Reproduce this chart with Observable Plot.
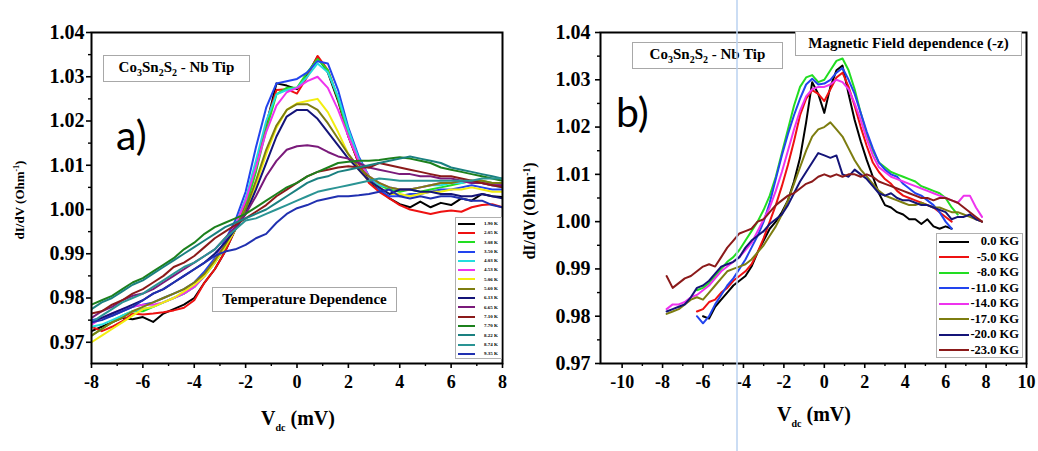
<!DOCTYPE html>
<html><head><meta charset="utf-8">
<script src="https://cdn.jsdelivr.net/npm/d3@7"></script>
<script src="https://cdn.jsdelivr.net/npm/@observablehq/plot@0.6"></script>
<style>
body{margin:0;background:#fff;}
#wrap{position:relative;width:1038px;height:451px;overflow:hidden;font-family:"Liberation Serif",serif;font-weight:bold;color:#000}
.panel{position:absolute;top:0}
.tbox{position:absolute;border:1.5px solid #a8a8a8;background:#fff;font-size:15px;display:flex;align-items:center;justify-content:center;box-sizing:border-box;white-space:nowrap}
.tbox sub{font-size:10px;vertical-align:-4px}
.plab{position:absolute;font-family:Lato,"Open Sans",sans-serif;font-weight:normal;font-size:41px;line-height:41px}
.ytitle{position:absolute;transform:translate(-50%,-50%) rotate(-90deg);white-space:nowrap}
.ytitle sup{font-size:0.6em;vertical-align:0.6em}
.xtitle{position:absolute;transform:translateX(-50%);white-space:nowrap;font-size:20px;line-height:22px}
.xtitle sub{font-size:10px;vertical-align:-6px}
.leg{position:absolute;border:1px solid #b0b0b0;background:#fff;box-sizing:border-box}
.row{display:flex;align-items:center}
.sw{flex:none}
#art{position:absolute;left:736px;top:0;width:2px;height:451px;background:rgba(185,210,240,0.75)}
</style></head>
<body>
<div id="wrap">
  <div id="pa" class="panel" style="left:0"></div>
  <div id="pb" class="panel" style="left:520px"></div>
</div>
<script>
// ---------- Panel a data (temperature dependence) ----------
const vA = [-8,-7.6,-7.2,-6.8,-6.4,-6,-5.6,-5.2,-4.8,-4.4,-4,-3.6,-3.2,-2.8,-2.4,-2,-1.6,-1.2,-0.8,-0.4,0,0.4,0.8,1.2,1.6,2,2.4,2.8,3.2,3.6,4,4.4,4.8,5.2,5.6,6,6.4,6.8,7.2,7.6,8];
const tempLabels = ["1.90 K","2.05 K","3.08 K","3.50 K","4.03 K","4.53 K","5.06 K","5.60 K","6.13 K","6.65 K","7.10 K","7.70 K","8.22 K","8.74 K","9.35 K"];
const tempColors = ["#000000","#ee1111","#22dd22","#2244ee","#22dddd","#ee33ee","#f2ee10","#7d7d10","#141478","#7a1a7a","#8b1a1a","#1c801c","#1a8080","#2a9494","#2030b0"];
const t190 = [0.9725,0.9735,0.9745,0.9755,0.9752,0.9757,0.9746,0.9765,0.9775,0.9785,0.9800,0.9835,0.9865,0.9905,0.9955,1.0010,1.0090,1.0190,1.0285,1.0280,1.0272,1.0305,1.0345,1.0310,1.0245,1.0165,1.0105,1.0065,1.0045,1.0025,1.0012,1.0005,1.0018,1.0005,1.0015,1.0010,1.0025,1.0020,1.0035,1.0030,1.0028];
const t205 = [0.9735,0.9725,0.9735,0.9748,0.9765,0.9763,0.9765,0.9768,0.9772,0.9778,0.9795,0.9835,0.9865,0.9905,0.9955,1.0010,1.0095,1.0195,1.0270,1.0272,1.0262,1.0300,1.0347,1.0315,1.0250,1.0165,1.0105,1.0060,1.0040,1.0025,1.0010,1.0000,0.9995,0.9990,0.9995,0.9998,0.9995,1.0005,1.0010,1.0012,1.0005];
const t308 = [0.9715,0.9730,0.9745,0.9760,0.9770,0.9770,0.9780,0.9790,0.9800,0.9810,0.9825,0.9850,0.9880,0.9915,0.9955,1.0005,1.0085,1.0180,1.0260,1.0275,1.0275,1.0310,1.0340,1.0315,1.0250,1.0170,1.0110,1.0075,1.0055,1.0045,1.0040,1.0045,1.0040,1.0045,1.0050,1.0055,1.0060,1.0065,1.0065,1.0060,1.0055];
const t350 = [0.9750,0.9755,0.9760,0.9770,0.9780,0.9785,0.9790,0.9800,0.9810,0.9820,0.9835,0.9860,0.9890,0.9930,0.9975,1.0040,1.0140,1.0230,1.0285,1.0290,1.0295,1.0310,1.0335,1.0330,1.0270,1.0185,1.0120,1.0075,1.0045,1.0030,1.0030,1.0035,1.0035,1.0040,1.0045,1.0045,1.0050,1.0055,1.0050,1.0045,1.0045];
const t403 = [0.9735,0.9740,0.9750,0.9760,0.9770,0.9775,0.9780,0.9790,0.9800,0.9810,0.9825,0.9850,0.9880,0.9920,0.9965,1.0025,1.0110,1.0200,1.0260,1.0270,1.0275,1.0300,1.0330,1.0310,1.0255,1.0180,1.0115,1.0075,1.0055,1.0050,1.0045,1.0045,1.0050,1.0055,1.0055,1.0060,1.0060,1.0065,1.0060,1.0055,1.0050];
const t453 = [0.9740,0.9755,0.9765,0.9775,0.9780,0.9785,0.9785,0.9790,0.9800,0.9810,0.9825,0.9850,0.9885,0.9925,0.9965,1.0020,1.0095,1.0175,1.0235,1.0265,1.0275,1.0290,1.0300,1.0275,1.0225,1.0165,1.0110,1.0075,1.0060,1.0050,1.0045,1.0045,1.0050,1.0055,1.0060,1.0060,1.0065,1.0060,1.0060,1.0055,1.0055];
const t506 = [0.9700,0.9715,0.9730,0.9745,0.9760,0.9775,0.9780,0.9790,0.9800,0.9815,0.9830,0.9850,0.9880,0.9915,0.9955,1.0000,1.0055,1.0125,1.0185,1.0225,1.0240,1.0245,1.0250,1.0220,1.0175,1.0125,1.0090,1.0065,1.0050,1.0035,1.0035,1.0030,1.0035,1.0040,1.0040,1.0045,1.0045,1.0050,1.0045,1.0040,1.0040];
const t560 = [0.9715,0.9730,0.9745,0.9755,0.9770,0.9780,0.9790,0.9800,0.9810,0.9820,0.9835,0.9855,0.9885,0.9920,0.9960,1.0000,1.0065,1.0135,1.0190,1.0225,1.0238,1.0238,1.0225,1.0195,1.0160,1.0125,1.0095,1.0075,1.0060,1.0050,1.0045,1.0045,1.0050,1.0055,1.0060,1.0060,1.0065,1.0065,1.0065,1.0060,1.0060];
const t613 = [0.9745,0.9755,0.9765,0.9775,0.9785,0.9795,0.9810,0.9820,0.9835,0.9850,0.9865,0.9880,0.9900,0.9925,0.9955,0.9990,1.0045,1.0105,1.0165,1.0210,1.0225,1.0225,1.0205,1.0175,1.0145,1.0115,1.0090,1.0065,1.0050,1.0035,1.0045,1.0045,1.0040,1.0040,1.0035,1.0035,1.0030,1.0030,1.0035,1.0030,1.0025];
const t665 = [0.9755,0.9770,0.9780,0.9795,0.9805,0.9810,0.9820,0.9835,0.9850,0.9865,0.9880,0.9895,0.9910,0.9935,0.9960,0.9990,1.0030,1.0075,1.0110,1.0135,1.0143,1.0145,1.0142,1.0130,1.0120,1.0115,1.0105,1.0095,1.0090,1.0085,1.0080,1.0080,1.0075,1.0075,1.0070,1.0070,1.0065,1.0060,1.0060,1.0055,1.0055];
const t710 = [0.9765,0.9770,0.9785,0.9795,0.9810,0.9820,0.9835,0.9850,0.9870,0.9880,0.9895,0.9915,0.9935,0.9950,0.9965,0.9980,0.9995,1.0010,1.0030,1.0045,1.0060,1.0075,1.0085,1.0090,1.0095,1.0098,1.0095,1.0095,1.0105,1.0100,1.0095,1.0090,1.0085,1.0080,1.0075,1.0075,1.0070,1.0065,1.0060,1.0055,1.0050];
const t770 = [0.9785,0.9795,0.9805,0.9820,0.9835,0.9845,0.9860,0.9875,0.9890,0.9910,0.9925,0.9945,0.9960,0.9970,0.9980,0.9990,1.0005,1.0020,1.0035,1.0050,1.0060,1.0075,1.0085,1.0095,1.0105,1.0108,1.0110,1.0110,1.0112,1.0115,1.0118,1.0115,1.0110,1.0105,1.0095,1.0090,1.0085,1.0080,1.0075,1.0070,1.0065];
const t822 = [0.9775,0.9790,0.9800,0.9815,0.9830,0.9840,0.9855,0.9870,0.9885,0.9900,0.9915,0.9930,0.9945,0.9960,0.9970,0.9980,0.9990,1.0000,1.0015,1.0030,1.0045,1.0060,1.0070,1.0075,1.0085,1.0090,1.0095,1.0100,1.0105,1.0110,1.0115,1.0120,1.0115,1.0110,1.0105,1.0095,1.0090,1.0085,1.0080,1.0075,1.0070];
const t874 = [0.9745,0.9760,0.9775,0.9790,0.9800,0.9810,0.9825,0.9840,0.9855,0.9870,0.9880,0.9895,0.9910,0.9935,0.9955,0.9975,0.9980,0.9990,1.0000,1.0010,1.0020,1.0030,1.0040,1.0045,1.0050,1.0055,1.0060,1.0065,1.0070,1.0068,1.0065,1.0065,1.0065,1.0065,1.0065,1.0065,1.0065,1.0065,1.0070,1.0070,1.0070];
const t935 = [0.9745,0.9750,0.9760,0.9770,0.9780,0.9795,0.9810,0.9820,0.9835,0.9850,0.9865,0.9880,0.9895,0.9905,0.9910,0.9920,0.9935,0.9945,0.9970,0.9990,1.0003,1.0010,1.0020,1.0025,1.0030,1.0030,1.0032,1.0035,1.0040,1.0045,1.0030,1.0025,1.0030,1.0025,1.0030,1.0030,1.0025,1.0020,1.0020,1.0010,1.0005];
const seriesA = [t190,t205,t308,t350,t403,t453,t506,t560,t613,t665,t710,t770,t822,t874,t935];
const xTicksA = [-8,-6,-4,-2,0,2,4,6,8];
const xMinorA = [-7,-5,-3,-1,1,3,5,7];
const yTicksA = [0.97,0.98,0.99,1.00,1.01,1.02,1.03,1.04];
const yMinorA = [0.975,0.985,0.995,1.005,1.015,1.025,1.035];

// ---------- Panel b data (magnetic field dependence) ----------
const vB = [-7.8,-7.5,-7.2,-6.9,-6.6,-6.3,-6,-5.7,-5.4,-5.1,-4.8,-4.5,-4.2,-3.9,-3.6,-3.3,-3,-2.7,-2.4,-2.1,-1.8,-1.5,-1.2,-0.9,-0.6,-0.3,0,0.3,0.6,0.9,1.2,1.5,1.8,2.1,2.4,2.7,3,3.3,3.6,3.9,4.2,4.5,4.8,5.1,5.4,5.7,6,6.3,6.6,6.9,7.2,7.5,7.8];
const fieldLabels = ["0.0 KG","-5.0 KG","-8.0 KG","-11.0 KG","-14.0 KG","-17.0 KG","-20.0 KG","-23.0 KG"];
const fieldColors = ["#000000","#ee1111","#22dd22","#2244ee","#ee33ee","#7d7d10","#141478","#8b1a1a"];
const b00 = [null,null,null,null,null,null,0.9800,0.9795,0.9820,0.9835,0.9850,0.9865,0.9875,0.9885,0.9905,0.9935,0.9960,0.9985,1.0000,1.0020,1.0045,1.0085,1.0135,1.0210,1.0295,1.0270,1.0230,1.0285,1.0320,1.0330,1.0270,1.0215,1.0170,1.0130,1.0095,1.0060,1.0035,1.0030,1.0020,1.0015,1.0005,1.0005,0.9995,1.0005,0.9990,0.9985,0.9990,0.9985,null,null,null,null,null];
const b05 = [null,null,null,null,null,0.9810,0.9815,0.9830,0.9835,0.9850,0.9860,0.9875,0.9885,0.9895,0.9910,0.9935,0.9965,1.0000,1.0035,1.0075,1.0120,1.0170,1.0225,1.0260,1.0278,1.0270,1.0255,1.0280,1.0305,1.0315,1.0285,1.0245,1.0200,1.0160,1.0125,1.0105,1.0090,1.0080,1.0065,1.0055,1.0050,1.0045,1.0040,1.0035,1.0030,1.0020,1.0010,1.0000,null,null,null,null,null];
const b08 = [null,null,null,null,null,0.9855,0.9860,0.9870,0.9885,0.9900,0.9915,0.9925,0.9940,0.9960,0.9980,1.0000,1.0025,1.0055,1.0095,1.0145,1.0195,1.0245,1.0285,1.0305,1.0310,1.0295,1.0300,1.0320,1.0340,1.0345,1.0320,1.0280,1.0230,1.0185,1.0150,1.0125,1.0115,1.0105,1.0100,1.0095,1.0090,1.0085,1.0075,1.0070,1.0065,1.0060,1.0050,1.0030,1.0015,null,null,null,null];
const b11 = [null,null,null,null,null,0.9800,0.9785,0.9800,0.9825,0.9845,0.9865,0.9880,0.9900,0.9920,0.9945,0.9970,1.0000,1.0040,1.0090,1.0140,1.0185,1.0225,1.0260,1.0290,1.0302,1.0290,1.0292,1.0300,1.0315,1.0325,1.0300,1.0270,1.0230,1.0190,1.0155,1.0125,1.0110,1.0100,1.0095,1.0080,1.0070,1.0060,1.0055,1.0045,1.0035,1.0020,1.0000,0.9985,null,null,null,null,null];
const b14 = [0.9815,0.9825,0.9825,0.9830,0.9840,0.9845,0.9855,0.9865,0.9880,0.9895,0.9905,0.9915,0.9925,0.9940,0.9955,0.9980,1.0005,1.0030,1.0065,1.0105,1.0150,1.0195,1.0235,1.0265,1.0280,1.0285,1.0285,1.0290,1.0300,1.0295,1.0280,1.0250,1.0215,1.0175,1.0140,1.0115,1.0105,1.0095,1.0090,1.0085,1.0080,1.0075,1.0070,1.0065,1.0060,1.0055,1.0050,1.0045,1.0040,1.0055,1.0055,1.0030,1.0010];
const b17 = [0.9805,0.9810,0.9815,0.9825,0.9835,0.9840,0.9835,0.9850,0.9865,0.9880,0.9895,0.9900,0.9905,0.9910,0.9920,0.9935,0.9950,0.9970,0.9990,1.0015,1.0045,1.0080,1.0115,1.0150,1.0180,1.0195,1.0200,1.0210,1.0195,1.0180,1.0155,1.0130,1.0110,1.0095,1.0080,1.0065,1.0055,1.0050,1.0045,1.0040,1.0035,1.0035,1.0040,1.0035,1.0030,1.0030,1.0025,1.0020,1.0020,1.0015,1.0010,1.0005,1.0000];
const b20 = [0.9810,0.9815,0.9820,0.9825,0.9840,0.9860,0.9865,0.9875,0.9890,0.9905,0.9910,0.9915,0.9925,0.9945,0.9960,0.9970,0.9980,0.9995,1.0005,1.0015,1.0035,1.0060,1.0085,1.0105,1.0125,1.0145,1.0140,1.0135,1.0140,1.0100,1.0095,1.0110,1.0100,1.0090,1.0075,1.0060,1.0055,1.0060,1.0050,1.0045,1.0045,1.0040,1.0035,1.0035,1.0030,1.0025,1.0020,1.0005,1.0010,1.0010,1.0015,1.0005,1.0000];
const b23 = [0.9885,0.9860,0.9870,0.9880,0.9885,0.9895,0.9905,0.9910,0.9905,0.9925,0.9945,0.9960,0.9975,0.9980,0.9985,1.0000,1.0005,1.0020,1.0035,1.0045,1.0055,1.0060,1.0070,1.0080,1.0085,1.0095,1.0100,1.0095,1.0100,1.0095,1.0100,1.0100,1.0095,1.0100,1.0095,1.0085,1.0080,1.0075,1.0070,1.0065,1.0060,1.0055,1.0050,1.0050,1.0045,1.0050,1.0050,1.0045,1.0040,1.0030,1.0020,1.0010,1.0000];
const seriesB = [b00,b05,b08,b11,b14,b17,b20,b23];
const xTicksB = [-10,-8,-6,-4,-2,0,2,4,6,8,10];
const xMinorB = [-9,-7,-5,-3,-1,1,3,5,7,9];
const yTicksB = [0.97,0.98,0.99,1.00,1.01,1.02,1.03,1.04];
const yMinorB = [0.975,0.985,0.995,1.005,1.015,1.025,1.035];

// ---------- build ----------
const rowsA = seriesA.flatMap((arr,i)=>arr.map((y,j)=>({x:vA[j], y, s:tempLabels[i]})));
const rowsB = seriesB.flatMap((arr,i)=>arr.map((y,j)=>({x:vB[j], y, s:fieldLabels[i]})));
const fmtX = d => String(d);
const fmtY = d => d.toFixed(2);
const st = {fontFamily:"Liberation Serif", fontWeight:"bold", background:"white", color:"black", overflow:"visible"};

const pa = Plot.plot({
  width:520, height:451, marginLeft:91, marginRight:18, marginTop:32, marginBottom:88,
  style:st,
  x:{domain:[-8,8], label:null},
  y:{domain:[0.9652,1.04], label:null},
  color:{domain:tempLabels, range:tempColors},
  marks:[
    Plot.line(rowsA,{x:"x", y:"y", z:"s", stroke:"s", strokeWidth:2, clip:true}),
    Plot.frame({stroke:"black", strokeWidth:2}),
    Plot.axisX({ticks:xTicksA, tickSize:5, tickPadding:7, fontSize:18, strokeWidth:1.6, tickFormat:fmtX, label:null}),
    Plot.axisX({ticks:xMinorA, tickSize:3, strokeWidth:1.4, tickFormat:()=>"", label:null}),
    Plot.axisY({ticks:yTicksA, tickSize:5, tickPadding:2, fontSize:20, strokeWidth:1.6, tickFormat:fmtY, label:null}),
    Plot.axisY({ticks:yMinorA, tickSize:3, strokeWidth:1.4, tickFormat:()=>"", label:null})
  ]
});
document.getElementById("pa").appendChild(pa);

const pb = Plot.plot({
  width:518, height:451, marginLeft:80, marginRight:12, marginTop:32, marginBottom:88,
  style:st,
  x:{domain:[-11.07,10], label:null},
  y:{domain:[0.97,1.04], label:null},
  color:{domain:fieldLabels, range:fieldColors},
  marks:[
    Plot.line(rowsB,{x:"x", y:"y", z:"s", stroke:"s", strokeWidth:2, clip:true}),
    Plot.frame({stroke:"black", strokeWidth:2}),
    Plot.axisX({ticks:xTicksB, tickSize:5, tickPadding:7, fontSize:18, strokeWidth:1.6, tickFormat:fmtX, label:null}),
    Plot.axisX({ticks:xMinorB, tickSize:3, strokeWidth:1.4, tickFormat:()=>"", label:null}),
    Plot.axisY({ticks:yTicksB, tickSize:5, tickPadding:5, fontSize:20, strokeWidth:1.6, tickFormat:fmtY, label:null}),
    Plot.axisY({ticks:yMinorB, tickSize:3, strokeWidth:1.4, tickFormat:()=>"", label:null})
  ]
});
document.getElementById("pb").appendChild(pb);

// ---------- overlays: annotations, titles, legends ----------
const wrap = document.getElementById("wrap");
function add(html, cls, css){
  const d = document.createElement("div");
  d.className = cls; d.innerHTML = html;
  Object.assign(d.style, css); wrap.appendChild(d); return d;
}
const coLabel = "<span>Co<sub>3</sub>Sn<sub>2</sub>S<sub>2</sub> - Nb Tip</span>";
add(coLabel, "tbox", {left:"103px", top:"55px", width:"147px", height:"27px"});
add("<span>Temperature Dependence</span>", "tbox", {left:"212px", top:"287px", width:"185px", height:"25px"});
add(coLabel, "tbox", {left:"632px", top:"42px", width:"151px", height:"27px"});
add("<span>Magnetic Field dependence (-z)</span>", "tbox", {left:"795px", top:"31px", width:"227px", height:"25px"});
add("a)", "plab", {left:"116px", top:"114px"});
add("b)", "plab", {left:"616px", top:"91px"});
add("dI/dV (Ohm<sup>-1</sup>)", "ytitle", {left:"20px", top:"200px", fontSize:"13px"});
add("dI/dV (Ohm<sup>-1</sup>)", "ytitle", {left:"530px", top:"211px", fontSize:"16px"});
add("V<sub>dc</sub> (mV)", "xtitle", {left:"298px", top:"407px"});
add("V<sub>dc</sub> (mV)", "xtitle", {left:"814px", top:"403px"});

function legend(labels, colors, css, rowH, swW, fs, textW){
  const L = add("", "leg", css);
  labels.forEach((lab,i)=>{
    const r = document.createElement("div");
    r.className = "row"; r.style.height = rowH + "px";
    const s = document.createElement("div");
    s.className = "sw";
    Object.assign(s.style, {width:swW+"px", height:"2px", background:colors[i], marginLeft:"2px"});
    const t = document.createElement("div");
    Object.assign(t.style, {fontSize:fs+"px", width:textW+"px", textAlign:"right", whiteSpace:"nowrap", lineHeight:rowH+"px"});
    t.textContent = lab;
    r.appendChild(s); r.appendChild(t); L.appendChild(r);
  });
}
legend(tempLabels, tempColors, {left:"455px", top:"217px", width:"47px", height:"142px", paddingTop:"1px"}, 9.3, 17, 5, 23);
legend(fieldLabels, fieldColors, {left:"936px", top:"233px", width:"87px", height:"125px", paddingTop:"0px"}, 15.5, 30, 12.5, 50);

const art = document.createElement("div"); art.id = "art"; wrap.appendChild(art);
</script>
</body></html>
